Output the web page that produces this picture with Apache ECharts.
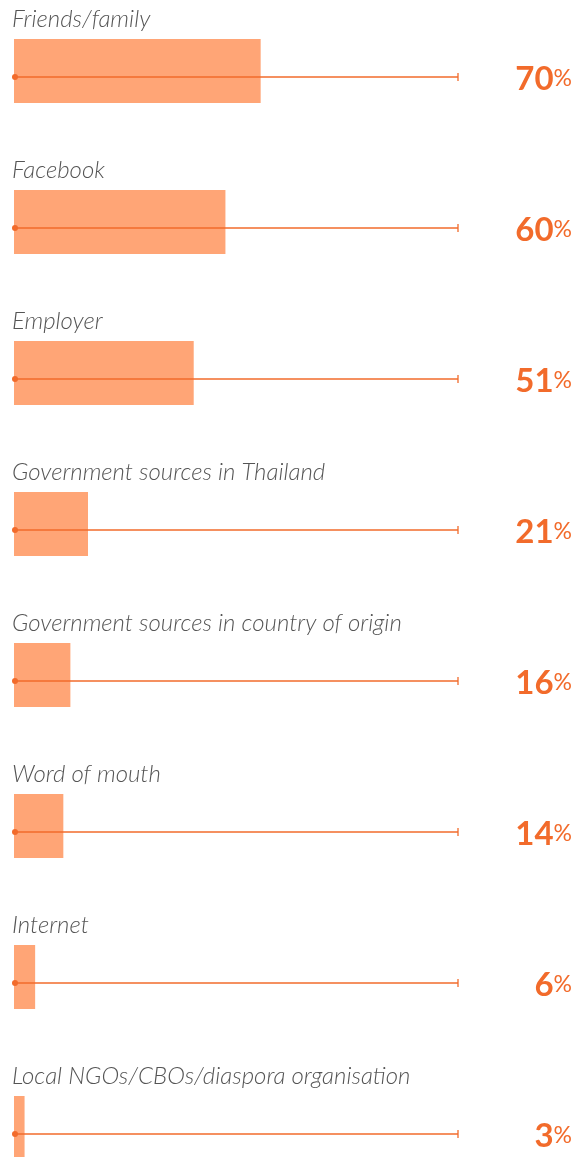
<!DOCTYPE html>
<html>
<head>
<meta charset="utf-8">
<script src="https://cdn.jsdelivr.net/npm/echarts@6/dist/echarts.min.js"></script>
<style>
html,body{margin:0;padding:0;background:#fff;}
#chart{width:576px;height:1157px;}
</style>
</head>
<body>
<div id="chart"></div>
<script>
const categories = [
  'Friends/family',
  'Facebook',
  'Employer',
  'Government sources in Thailand',
  'Government sources in country of origin',
  'Word of mouth',
  'Internet',
  'Local NGOs/CBOs/diaspora organisation'
];
const values = [70, 60, 51, 21, 16, 14, 6, 3];
const trackMax = 126;

const chart = echarts.init(document.getElementById('chart'), null, {renderer: 'canvas'});
const BAR = '#FFA576';
const ORANGE = '#F26B2B';

chart.setOption({
  animation: false,
  grid: {left: 14, width: 444, top: -4.5, height: 1208, containLabel: false, outerBoundsMode: 'none'},
  xAxis: {type: 'value', min: 0, max: trackMax, show: false},
  yAxis: {type: 'category', data: categories, inverse: true, show: false},
  series: [
    {
      type: 'bar',
      data: values,
      barWidth: 64,
      z: 1,
      itemStyle: {color: BAR},
      label: {
        show: true,
        position: [-2, -8],
        verticalAlign: 'bottom',
        align: 'left',
        formatter: p => p.name,
        fontFamily: 'Lato',
        fontStyle: 'italic',
        fontWeight: 300,
        fontSize: 24,
        color: '#555555'
      }
    },
    {
      type: 'custom',
      z: 5,
      data: values.map((v, i) => [v, i]),
      encode: {x: 0, y: 1},
      renderItem: function (params, api) {
        const i = api.value(1);
        const v = api.value(0);
        const p0 = api.coord([0, i]);
        const p1 = api.coord([trackMax, i]);
        const y = p0[1] + 6;
        const x0 = p0[0] + 1;
        const x1 = p1[0];
        return {
          type: 'group',
          children: [
            {type: 'line', shape: {x1: x0, y1: y, x2: x1, y2: y}, style: {stroke: ORANGE, lineWidth: 1.3}},
            {type: 'circle', shape: {cx: x0, cy: y, r: 3}, style: {fill: ORANGE}},
            {type: 'line', shape: {x1: x1, y1: y - 4, x2: x1, y2: y + 4}, style: {stroke: ORANGE, lineWidth: 1.3}},
            {
              type: 'text',
              style: {
                x: 572, y: y + 19,
                align: 'right', verticalAlign: 'bottom',
                text: '{n|' + v + '}{p|%}',
                rich: {
                  n: {fontFamily: 'Lato', fontWeight: 'bold', fontSize: 33, fill: ORANGE, color: ORANGE},
                  p: {fontFamily: 'Lato', fontWeight: 'normal', fontSize: 23, fill: ORANGE, color: ORANGE, padding: [0, 0, 1, 0]}
                }
              }
            }
          ]
        };
      }
    }
  ]
});
</script>
</body>
</html>
